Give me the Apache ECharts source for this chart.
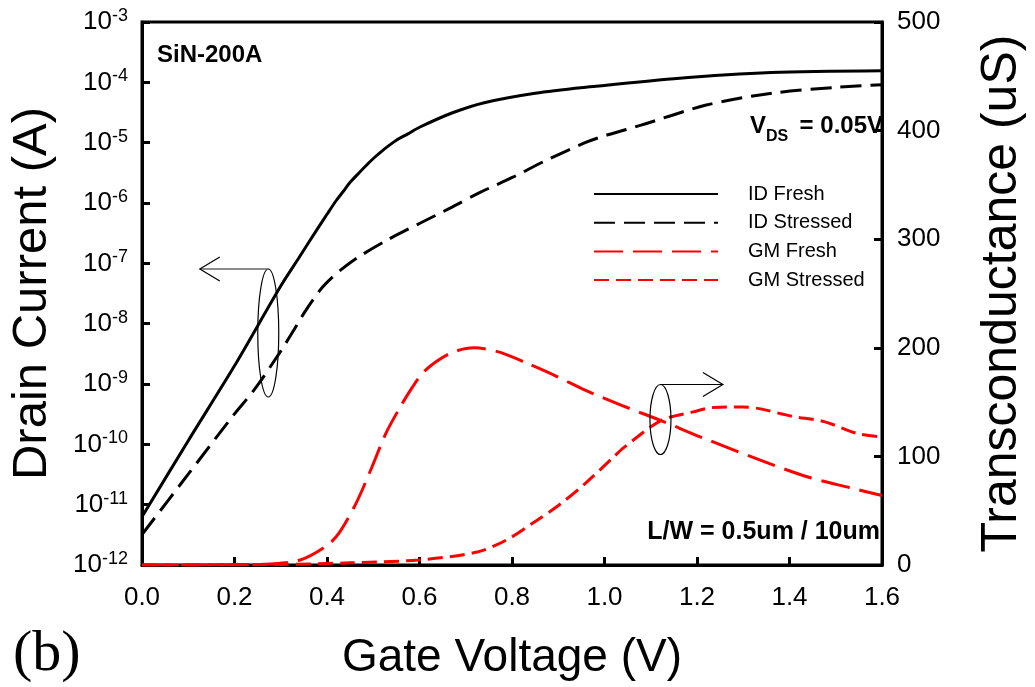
<!DOCTYPE html>
<html>
<head>
<meta charset="utf-8">
<script src="https://cdn.jsdelivr.net/npm/echarts@6/dist/echarts.min.js"></script>
<style>
html,body{margin:0;padding:0;background:#fff;overflow:hidden;}
#chart{width:100vw;height:100vh;}
</style>
</head>
<body>
<div id="chart"></div>
<script>
// ---------------- data ----------------
var seriesNames = ['ID Fresh', 'ID Stressed', 'GM Fresh', 'GM Stressed'];

var vgIdFresh = [0, 0.10, 0.20, 0.30, 0.34, 0.38, 0.40, 0.42, 0.435, 0.45, 0.47, 0.49, 0.505, 0.52, 0.535, 0.55, 0.575, 0.60, 0.67, 0.74, 0.85, 0.96, 1.15, 1.36, 1.60];
var idFresh   = [6.3e-12, 1.15e-10, 2.0e-9, 4.2e-8, 1.26e-7, 3.8e-7, 6.5e-7, 1.1e-6, 1.55e-6, 2.2e-6, 3.2e-6, 4.6e-6, 5.9e-6, 7.4e-6, 9.1e-6, 1.1e-5, 1.4e-5, 1.8e-5, 3.1e-5, 4.6e-5, 6.6e-5, 8.3e-5, 1.15e-4, 1.45e-4, 1.55e-4];

var vgIdStressed = [0, 0.10, 0.20, 0.242, 0.30, 0.331, 0.35, 0.37, 0.39, 0.41, 0.43, 0.47, 0.533, 0.603, 0.667, 0.731, 0.803, 0.867, 0.958, 1.007, 1.079, 1.22, 1.362, 1.504, 1.60];
var idStressed   = [3.2e-12, 3.2e-11, 3.2e-10, 7.9e-10, 3.5e-9, 8.5e-9, 1.48e-8, 2.5e-8, 4.0e-8, 5.75e-8, 7.8e-8, 1.3e-7, 2.5e-7, 4.7e-7, 8.3e-7, 1.5e-6, 2.7e-6, 4.8e-6, 1.0e-5, 1.35e-5, 1.95e-5, 4.2e-5, 6.6e-5, 8.3e-5, 9.1e-5];

var vgGmFresh = [0, 0.10, 0.20, 0.278, 0.342, 0.40, 0.427, 0.463, 0.497, 0.527, 0.555, 0.582, 0.612, 0.667, 0.718, 0.773, 0.831, 0.895, 0.958, 1.037, 1.122, 1.207, 1.334, 1.44, 1.532, 1.60];
var gmFresh   = [0, 0, 0.3, 1, 4.6, 18, 30, 57, 90, 121, 143, 162, 179, 195, 200, 196, 186, 174, 161, 147, 133, 118, 97, 81, 71, 64];

var vgGmStressed = [0, 0.30, 0.45, 0.597, 0.725, 0.788, 0.846, 0.901, 0.958, 1.016, 1.043, 1.122, 1.192, 1.235, 1.298, 1.334, 1.405, 1.475, 1.547, 1.60];
var gmStressed   = [0, 0.5, 2, 4.6, 12, 23, 39, 55, 75, 98, 108.5, 133, 141, 145, 145.5, 144, 137, 132, 121, 118];

var xTicks = {min: 0, max: 1.6, interval: 0.2};
var yLeftRange = {min: 1e-12, max: 1e-3};
var yRightTicks = {min: 0, max: 500, interval: 100};

// annotation anchors (data coords)
var leftMarker = {x: 0.273, y: 7e-9, arrowTo: 0.125};
var rightMarker = {x: 1.121, y: 134, arrowTo: 1.256};

// ---------------- chart ----------------
function pairs(xs, ys) { return xs.map(function (x, i) { return [x, ys[i]]; }); }

var FONT = '"Liberation Sans", Arial, sans-serif';
var chart = echarts.init(document.getElementById('chart'), null, {renderer: 'canvas'});
var W = chart.getWidth(), H = chart.getHeight();
var sx = W / 1035, sy = H / 687;

var axisCommon = {
  axisLine: {show: true, lineStyle: {color: '#000', width: 3}},
  axisTick: {show: true, inside: true, length: 8, lineStyle: {color: '#000', width: 3}},
  splitLine: {show: false}
};

var lineCommon = {type: 'line', showSymbol: false, symbol: 'none', smooth: 0.3};

var option = {
  backgroundColor: '#fff',
  animation: false,
  grid: {left: 139 * sx, right: 143 * sx, top: 22 * sy, bottom: 122 * sy, show: true, borderColor: '#000', borderWidth: 3, containLabel: false},
  legend: {
    orient: 'vertical', left: 593 * sx, top: 184 * sy, itemWidth: 124, itemHeight: 14, itemGap: 28.7 * sy - 20,
    padding: 0, selectedMode: false,
    itemStyle: {opacity: 0},
    textStyle: {fontFamily: FONT, fontSize: 20, color: '#000', padding: [0, 0, 0, 25]},
    data: seriesNames
  },
  xAxis: Object.assign({}, axisCommon, {
    type: 'value', min: xTicks.min, max: xTicks.max, interval: xTicks.interval,
    name: 'Gate Voltage (V)', nameLocation: 'middle', nameGap: 93 * sy - 23,
    nameTextStyle: {fontFamily: FONT, fontSize: 46, color: '#000'},
    axisLabel: {margin: 33.5 * sy - 14, fontFamily: FONT, fontSize: 26, color: '#000',
      formatter: function (v) { return v.toFixed(1); }}
  }),
  yAxis: [
    Object.assign({}, axisCommon, {
      type: 'log', logBase: 10, min: yLeftRange.min, max: yLeftRange.max, position: 'left',
      name: 'Drain Current (A)', nameLocation: 'middle', nameRotate: 90, nameGap: 85,
      nameTextStyle: {fontFamily: FONT, fontSize: 49, color: '#000'},
      axisLabel: {margin: 14, fontFamily: FONT, color: '#000',
        formatter: function (v) {
          var e = Math.round(Math.log(v) / Math.LN10);
          return '{b|10}{s|' + e + '}';
        },
        rich: {
          b: {fontFamily: FONT, fontSize: 26, lineHeight: 30, color: '#000'},
          s: {fontFamily: FONT, fontSize: 18, lineHeight: 17, verticalAlign: 'top', color: '#000'}
        }
      }
    }),
    Object.assign({}, axisCommon, {
      type: 'value', min: yRightTicks.min, max: yRightTicks.max, interval: yRightTicks.interval, position: 'right',
      name: 'Transconductance (uS)', nameLocation: 'middle', nameRotate: 90, nameGap: 95,
      nameTextStyle: {fontFamily: FONT, fontSize: 50, color: '#000'},
      axisLabel: {margin: 15, fontFamily: FONT, fontSize: 26, color: '#000'}
    })
  ],
  series: [
    Object.assign({}, lineCommon, {name: seriesNames[0], yAxisIndex: 0, data: pairs(vgIdFresh, idFresh),
      lineStyle: {color: '#000', width: 3, type: 'solid'}, itemStyle: {color: '#000'}}),
    Object.assign({}, lineCommon, {name: seriesNames[1], yAxisIndex: 0, data: pairs(vgIdStressed, idStressed),
      lineStyle: {color: '#000', width: 3, type: [21, 9]}, itemStyle: {color: '#000'}}),
    Object.assign({}, lineCommon, {name: seriesNames[2], yAxisIndex: 1, data: pairs(vgGmFresh, gmFresh),
      lineStyle: {color: '#ff0000', width: 3, type: [29, 10]}, itemStyle: {color: '#ff0000'}}),
    Object.assign({}, lineCommon, {name: seriesNames[3], yAxisIndex: 1, data: pairs(vgGmStressed, gmStressed),
      lineStyle: {color: '#ff0000', width: 3, type: [15, 7]}, itemStyle: {color: '#ff0000'}})
  ]
};
chart.setOption(option);

// ---------------- annotations ----------------
function px(x, y, yi) { return chart.convertToPixel({xAxisIndex: 0, yAxisIndex: yi}, [x, y]); }
var lc = px(leftMarker.x, leftMarker.y, 0);
var lEnd = px(leftMarker.arrowTo, leftMarker.y, 0);
var rc = px(rightMarker.x, rightMarker.y, 1);
var rEnd = px(rightMarker.arrowTo, rightMarker.y, 1);
var lRy = 64 * sy, rRy = 35 * sy, rx = 10.5;
var lTop = lc[1] - lRy, rTop = rc[1] - rRy;
var BOLD = 'bold 24px ' + FONT;

chart.setOption({
  graphic: [
    {type: 'ellipse', shape: {cx: lc[0], cy: lc[1], rx: rx, ry: lRy}, style: {fill: 'none', stroke: '#000', lineWidth: 1.2}, z: 50},
    {type: 'line', shape: {x1: lc[0], y1: lTop, x2: lEnd[0], y2: lTop}, style: {stroke: '#666', lineWidth: 1.5}, z: 50},
    {type: 'polyline', shape: {points: [[lEnd[0] + 20, lTop - 12], [lEnd[0], lTop], [lEnd[0] + 20, lTop + 12]]}, style: {fill: 'none', stroke: '#000', lineWidth: 1.2}, z: 50},
    {type: 'ellipse', shape: {cx: rc[0], cy: rc[1], rx: rx, ry: rRy}, style: {fill: 'none', stroke: '#000', lineWidth: 1.2}, z: 50},
    {type: 'line', shape: {x1: rc[0], y1: rTop, x2: rEnd[0], y2: rTop}, style: {stroke: '#000', lineWidth: 1.2}, z: 50},
    {type: 'polyline', shape: {points: [[rEnd[0] - 20, rTop - 12], [rEnd[0], rTop], [rEnd[0] - 20, rTop + 12]]}, style: {fill: 'none', stroke: '#000', lineWidth: 1.2}, z: 50},

    {type: 'text', x: 157 * sx, y: 55 * sy, style: {text: 'SiN-200A', font: BOLD, fill: '#000', textVerticalAlign: 'middle', textAlign: 'left'}, z: 60},
    {type: 'text', x: 750 * sx, y: 126 * sy, style: {text: 'V', font: BOLD, fill: '#000', textVerticalAlign: 'middle', textAlign: 'left'}, z: 60},
    {type: 'text', x: 766 * sx, y: 137 * sy, style: {text: 'DS', font: 'bold 16px ' + FONT, fill: '#000', textVerticalAlign: 'middle', textAlign: 'left'}, z: 60},
    {type: 'text', x: 883 * sx, y: 126 * sy, style: {text: '= 0.05V', font: BOLD, fill: '#000', textVerticalAlign: 'middle', textAlign: 'right'}, z: 60},
    {type: 'text', x: 880 * sx, y: 532 * sy, style: {text: 'L/W = 0.5um / 10um', font: 'bold 25px ' + FONT, fill: '#000', textVerticalAlign: 'middle', textAlign: 'right'}, z: 60},
    {type: 'text', x: 13 * sx, y: 655 * sy, style: {text: '(b)', font: '58px "Liberation Serif", "Times New Roman", serif', fill: '#000', textVerticalAlign: 'middle', textAlign: 'left'}, z: 60}
  ]
});
</script>
</body>
</html>
